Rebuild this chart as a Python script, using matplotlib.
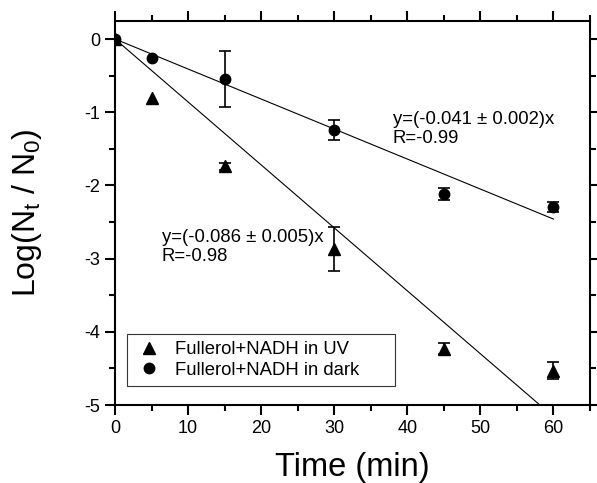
import numpy as np
import matplotlib
matplotlib.use("Agg")
import matplotlib.pyplot as plt
from matplotlib.ticker import MultipleLocator

plt.rcParams['font.family'] = ['Liberation Sans', 'DejaVu Sans']
plt.rcParams['mathtext.default'] = 'regular'
plt.rcParams['axes.unicode_minus'] = False

# data
time = np.array([0, 5, 15, 30, 45, 60])
uv_logN = np.array([0, -0.80, -1.74, -2.87, -4.23, -4.53])
uv_err = np.array([0, 0, 0.05, 0.30, 0.08, 0.12])
dark_logN = np.array([0, -0.26, -0.55, -1.24, -2.12, -2.29])
dark_err = np.array([0, 0, 0.38, 0.14, 0.08, 0.07])

# fitted slopes
uv_slope = -0.086
dark_slope = -0.041

fig = plt.figure(figsize=(5.97, 4.83), dpi=100)
ax = fig.add_axes([115 / 597, 1 - 405 / 483, 475 / 597, 384.3 / 483])

# markers
ax.plot(time, uv_logN, '^', color='black', ms=8.5, label='Fullerol+NADH in UV', zorder=3)
ax.plot(time, dark_logN, 'o', color='black', ms=7.5, label='Fullerol+NADH in dark', zorder=3)

# error bars only where there is an error
m = uv_err > 0
ax.errorbar(time[m], uv_logN[m], yerr=uv_err[m], fmt='none', ecolor='black',
            capsize=4, elinewidth=1.2, capthick=1.2, zorder=2)
m = dark_err > 0
ax.errorbar(time[m], dark_logN[m], yerr=dark_err[m], fmt='none', ecolor='black',
            capsize=4, elinewidth=1.2, capthick=1.2, zorder=2)

# linear fits through origin
x_fit = np.linspace(0, 60, 100)
ax.plot(x_fit, dark_slope * x_fit, 'k-', lw=0.8)
x_uv = np.linspace(0, -5 / uv_slope, 100)
ax.plot(x_uv, uv_slope * x_uv, 'k-', lw=0.8)

ax.text(38.0, -0.99, 'y=(-0.041 \u00b1 0.002)x\nR=-0.99', fontsize=13.3,
        va='top', ha='left', linespacing=1.15)
ax.text(6.4, -2.6, 'y=(-0.086 \u00b1 0.005)x\nR=-0.98', fontsize=13.3,
        va='top', ha='left', linespacing=1.15)

ax.set_xlim(0, 65)
ax.set_ylim(-5, 0.25)
ax.xaxis.set_major_locator(MultipleLocator(10))
ax.xaxis.set_minor_locator(MultipleLocator(5))
ax.yaxis.set_major_locator(MultipleLocator(1))
ax.yaxis.set_minor_locator(MultipleLocator(0.5))
ax.tick_params(which='both', direction='out', top=True, right=True,
               labeltop=False, labelright=False, width=1.5, labelsize=13)
ax.tick_params(which='major', length=7)
ax.tick_params(which='minor', length=4)
for s in ax.spines.values():
    s.set_linewidth(1.5)

ax.set_xlabel('Time (min)', fontsize=23.5, labelpad=11)
ax.set_ylabel('Log(N$_t$ / N$_0$)', fontsize=23, labelpad=29)

leg = ax.legend(loc='lower left', bbox_to_anchor=(0.025, 0.049, 0.564, 0.13),
                mode='expand', fontsize=13.3,
                frameon=True, fancybox=False, edgecolor='black', borderaxespad=0,
                handletextpad=0.6, borderpad=0.4, labelspacing=0.2, handlelength=1.6)
leg.get_frame().set_linewidth(0.8)

fig.savefig('out.png', dpi=100)
